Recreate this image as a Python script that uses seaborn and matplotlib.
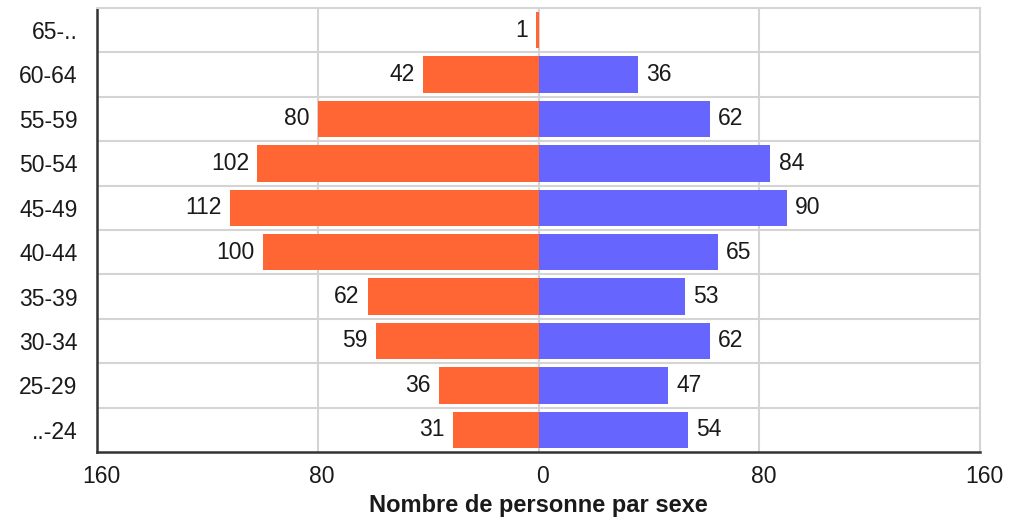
import pandas as pd
import matplotlib.pyplot as plt
import matplotlib.transforms as mtransforms
import seaborn as sns

age_groups = ['65-..', '60-64', '55-59', '50-54', '45-49', '40-44', '35-39', '30-34', '25-29', '..-24']
left_values = [1, 42, 80, 102, 112, 100, 62, 59, 36, 31]
right_values = [0, 36, 62, 84, 90, 65, 53, 62, 47, 54]
x_ticks = [-160, -80, 0, 80, 160]
x_tick_labels = ['160', '80', '0', '80', '160']

df = pd.DataFrame({'age': age_groups,
                   'left': [-v for v in left_values],
                   'right': right_values})

sns.set_style('white')
plt.rcParams['font.family'] = ['Liberation Sans', 'DejaVu Sans']

fig, ax = plt.subplots(figsize=(10.23, 5.22), dpi=100)
fig.subplots_adjust(left=0.095, right=0.958, top=0.985, bottom=0.134)

sns.barplot(data=df, y='age', x='left', color='#FF6633', orient='h', width=0.82,
            saturation=1, linewidth=0, edgecolor='none', ax=ax, zorder=3)
sns.barplot(data=df, y='age', x='right', color='#6666FF', orient='h', width=0.82,
            saturation=1, linewidth=0, edgecolor='none', ax=ax, zorder=3)

fs = 16.5
for i, (l, r) in enumerate(zip(left_values, right_values)):
    if l:
        ax.text(-l - 3, i, str(l), ha='right', va='center', fontsize=fs, color='#1a1a1a', zorder=4)
    if r:
        ax.text(r + 3, i, str(r), ha='left', va='center', fontsize=fs, color='#1a1a1a', zorder=4)

ax.set_xlim(-160, 160)
ax.set_ylim(len(age_groups) - 0.5, -0.5)
ax.set_xticks(x_ticks)
ax.set_xticklabels(x_tick_labels, fontsize=fs, color='#1a1a1a')
ax.tick_params(axis='y', labelsize=fs, labelcolor='#1a1a1a', length=0, pad=14)
ax.tick_params(axis='x', length=0, pad=9)
# labels in the original sit a few pixels right of their gridlines
shift = mtransforms.ScaledTranslation(4 / 100, 0, fig.dpi_scale_trans)
for lbl in ax.get_xticklabels():
    lbl.set_transform(lbl.get_transform() + shift)

for x in [-80, 0, 80]:
    ax.axvline(x, color='#d4d4d4', lw=1.5, zorder=1)
for k in range(len(age_groups) - 1):
    ax.axhline(k + 0.5, color='#d4d4d4', lw=1.5, zorder=1)

for side in ['top', 'right']:
    ax.spines[side].set_color('#d4d4d4')
    ax.spines[side].set_linewidth(1.5)
for side in ['left', 'bottom']:
    ax.spines[side].set_color('#333333')
    ax.spines[side].set_linewidth(1.8)

ax.set_ylabel('')
ax.set_xlabel('Nombre de personne par sexe', fontsize=17, fontweight='bold', color='#1a1a1a', labelpad=5)

plt.savefig('out.png', dpi=100)
